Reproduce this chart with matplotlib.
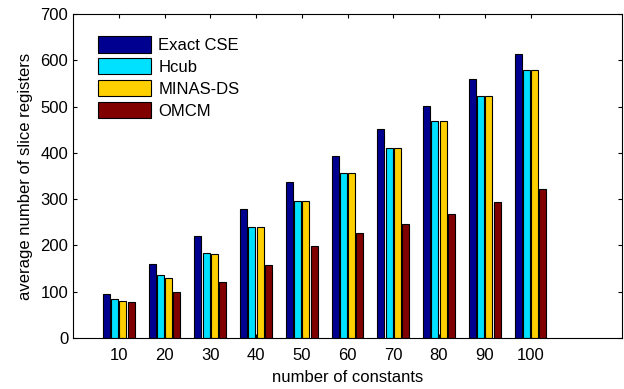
import numpy as np
import matplotlib.pyplot as plt

plt.rcParams['font.family'] = ['Liberation Sans', 'DejaVu Sans']

constants = [10, 20, 30, 40, 50, 60, 70, 80, 90, 100]
exact_cse = [94, 160, 221, 278, 337, 394, 452, 502, 559, 613]
hcub = [85, 137, 184, 239, 295, 356, 410, 469, 523, 580]
minas_ds = [80, 130, 182, 239, 295, 356, 410, 469, 523, 580]
omcm = [78, 99, 120, 158, 198, 226, 247, 267, 293, 321]

series = [
    ('Exact CSE', exact_cse, '#000090'),
    ('Hcub', hcub, '#00E0FF'),
    ('MINAS-DS', minas_ds, '#FFD000'),
    ('OMCM', omcm, '#800000'),
]

fig = plt.figure(figsize=(6.24, 3.89), dpi=100)
ax = fig.add_axes([73 / 624, 1 - 338 / 389, (622 - 73) / 624, (338 - 14) / 389])

x = np.arange(1, len(constants) + 1)
w = 0.15
step = 0.18
for k, (name, vals, col) in enumerate(series):
    ax.bar(x + (k - 1.5) * step, vals, w, color=col, edgecolor='black',
           linewidth=0.8, label=name)

ax.set_xlim(0, 12)
ax.set_ylim(0, 700)
ax.set_xticks(x)
ax.set_xticklabels([str(c) for c in constants])
ax.set_yticks(range(0, 701, 100))
ax.tick_params(direction='in', top=True, right=True, labelsize=12, length=3)
ax.tick_params(axis='x', pad=7)
ax.set_xlabel('number of constants', fontsize=12, labelpad=5)
ax.set_ylabel('average number of slice registers', fontsize=12, labelpad=5)

ax.legend(loc='upper left', frameon=False, fontsize=12, handlelength=3.2,
          handleheight=1.15, labelspacing=0.3, handletextpad=0.42,
          borderpad=0, borderaxespad=0,
          bbox_to_anchor=(98 / 624, 1 - 36 / 389), bbox_transform=fig.transFigure)

fig.savefig('out.png', dpi=100)
